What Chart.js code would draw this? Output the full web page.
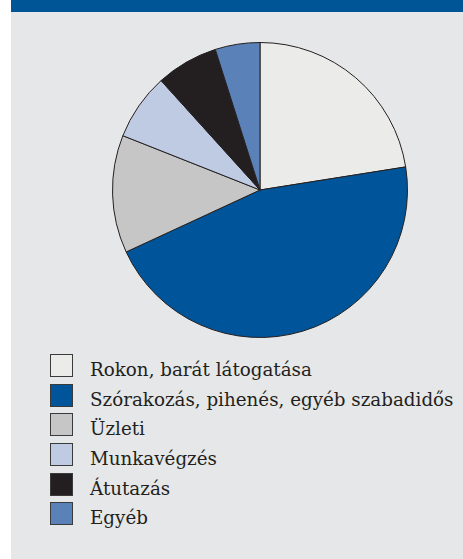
<!DOCTYPE html>
<html>
<head>
  <title>Utazások célja</title>
<script src="https://cdn.jsdelivr.net/npm/chart.js"></script>
<meta charset="utf-8">
</head>
<style>
html, body {
  margin: 0;
  padding: 0;
  background: #ffffff;
}

#frame {
  position: absolute;
  left: 11px;
  top: 0;
  width: 452px;
  height: 559px;
  background: #e6e7e8;
}

#topbar {
  position: absolute;
  left: 0;
  top: 0;
  width: 452px;
  height: 12px;
  background: #005597;
}

#chart-container {
  position: absolute;
  left: 101px;
  top: 42px;
  width: 296px;
  height: 296px;
}

#legend {
  position: absolute;
  left: 39px;
  top: 354px;
  margin: 0;
  padding: 0;
  list-style: none;
  font-family: "DejaVu Serif", serif;
  font-size: 18.3px;
  color: #231f20;
}

#legend li {
  position: relative;
  height: 29.7px;
  line-height: 23px;
  padding-left: 40px;
  white-space: nowrap;
}

#legend .text {
  position: relative;
  top: 4px;
}

#legend .swatch {
  position: absolute;
  left: 0;
  top: 0;
  width: 21px;
  height: 21px;
  border: 1px solid #3a3a3a;
}
</style>
<body>
<div id="frame">
  <div id="topbar"></div>
  <div id="chart-container">
    <canvas id="chart"></canvas>
  </div>
  <ul id="legend"></ul>
</div>
</body>
<script>
const labels = [
  'Rokon, barát látogatása',
  'Szórakozás, pihenés, egyéb szabadidős',
  'Üzleti',
  'Munkavégzés',
  'Átutazás',
  'Egyéb'
];
const shares = [22.5, 45.6, 12.9, 7.3, 6.8, 4.9];
const colors = ['#ebebea', '#00559a', '#c6c6c6', '#bfcae3', '#231f20', '#5b82b8'];

const chartEl = document.getElementById('chart');
const chart = new Chart(chartEl, {
  type: 'pie',
  data: {
    labels: labels,
    datasets: [{
      data: shares,
      backgroundColor: colors,
      borderColor: '#231f20',
      borderWidth: 1
    }]
  },
  options: {
    responsive: true,
    maintainAspectRatio: false,
    animation: false,
    layout: { padding: 0 },
    plugins: {
      legend: { display: false },
      tooltip: { enabled: false }
    }
  }
});

// legend list under the pie
const legend = document.getElementById('legend');
labels.forEach((label, i) => {
  const item = document.createElement('li');
  const swatch = document.createElement('span');
  swatch.className = 'swatch';
  swatch.style.background = colors[i];
  const text = document.createElement('span');
  text.className = 'text';
  text.textContent = label;
  item.appendChild(swatch);
  item.appendChild(text);
  legend.appendChild(item);
});
</script>
</html>
